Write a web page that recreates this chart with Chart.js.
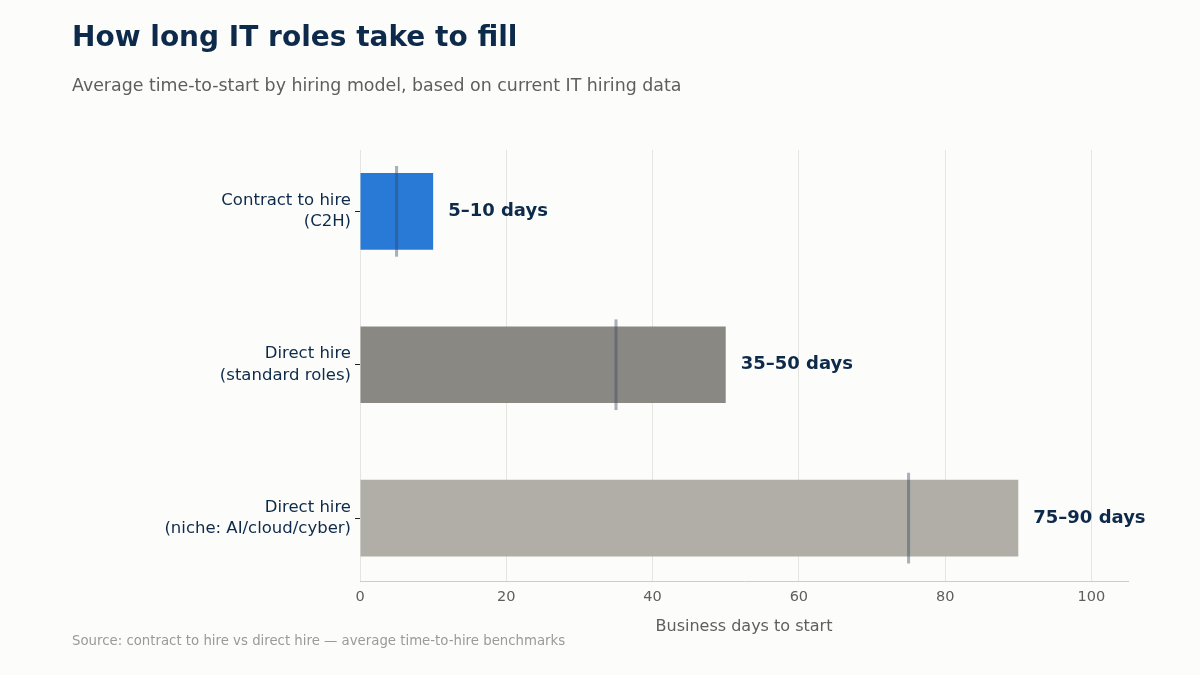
<!DOCTYPE html>
<html>
<head>
<meta charset="utf-8">
<script src="https://cdn.jsdelivr.net/npm/chart.js@4.4.1/dist/chart.umd.min.js"></script>
<style>
  html, body { margin: 0; padding: 0; background: #fcfcfa; }
  body { width: 1200px; height: 675px; position: relative; overflow: hidden; font-family: 'DejaVu Sans', sans-serif; }
  #wrap { position: absolute; left: 0; top: 0; width: 1200px; height: 675px; }
  .title { position: absolute; left: 72px; top: 20px; font-size: 28px; font-weight: bold; color: #0d2a4a; }
  .subtitle { position: absolute; left: 72px; top: 75px; font-size: 17.4px; color: #5e5e5e; }
  .source { position: absolute; left: 72px; top: 633px; font-size: 13.3px; color: #9a9a9a; }
</style>
</head>
<body>
<div id="wrap"><canvas id="chart" width="1200" height="675"></canvas></div>
<div class="title">How long IT roles take to fill</div>
<div class="subtitle">Average time-to-start by hiring model, based on current IT hiring data</div>
<div class="source">Source: contract to hire vs direct hire — average time-to-hire benchmarks</div>
<script>
// chart data
const categories = [
  ['Contract to hire', '(C2H)'],
  ['Direct hire', '(standard roles)'],
  ['Direct hire', '(niche: AI/cloud/cyber)']
];
const lowDays = [5, 35, 75];
const highDays = [10, 50, 90];
const barColors = ['#2979d7', '#8a8883', '#b0aea6'];
const xTicks = [0, 20, 40, 60, 80, 100];

Chart.defaults.font.family = "'DejaVu Sans', sans-serif";

// low-end marker line + range text next to each bar
const rangePlugin = {
  id: 'rangeMarks',
  afterDatasetsDraw(chart) {
    const ctx = chart.ctx;
    const xs = chart.scales.x, ys = chart.scales.y;
    const meta = chart.getDatasetMeta(0);
    ctx.save();
    meta.data.forEach((bar, i) => {
      const half = bar.height / 2;
      const lx = xs.getPixelForValue(lowDays[i]);
      ctx.strokeStyle = 'rgba(50,70,95,0.42)';
      ctx.lineWidth = 3;
      ctx.beginPath();
      ctx.moveTo(lx, bar.y - half - 7);
      ctx.lineTo(lx, bar.y + half + 7);
      ctx.stroke();

      ctx.fillStyle = '#0d2a4a';
      ctx.font = "bold 18px 'DejaVu Sans', sans-serif";
      ctx.textAlign = 'left';
      ctx.textBaseline = 'middle';
      ctx.fillText(lowDays[i] + '–' + highDays[i] + ' days', xs.getPixelForValue(highDays[i]) + 15, ys.getPixelForValue(i));
    });
    ctx.restore();
  }
};

new Chart(document.getElementById('chart'), {
  type: 'bar',
  data: {
    datasets: [{
      data: highDays.map((v, i) => ({ x: v, y: i })),
      backgroundColor: barColors,
      borderWidth: 0,
      barPercentage: 0.5,
      categoryPercentage: 1
    }]
  },
  options: {
    indexAxis: 'y',
    responsive: false,
    animation: false,
    layout: { padding: { top: 150, right: 72, left: 0, bottom: 0 } },
    plugins: { legend: { display: false }, tooltip: { enabled: false } },
    scales: {
      x: {
        type: 'linear',
        min: 0,
        max: 105,
        afterBuildTicks: s => { s.ticks = xTicks.map(v => ({ value: v })); },
        ticks: { color: '#5e5e5e', font: { size: 14.5 }, padding: 8 },
        grid: { color: '#e4e4e0', drawTicks: false },
        border: { color: '#cccccc', width: 1 },
        title: { display: true, text: 'Business days to start', color: '#5e5e5e', font: { size: 16 }, padding: { top: 9, bottom: 39 } },
        afterFit: s => { s.height = 94; }
      },
      y: {
        type: 'linear',
        reverse: true,
        offset: false,
        min: -0.4,
        max: 2.41,
        afterBuildTicks: s => { s.ticks = categories.map((c, i) => ({ value: i })); },
        ticks: {
          callback: v => categories[v],
          color: '#0d2a4a',
          font: { size: 16.5, lineHeight: 1.28 },
          padding: 4
        },
        grid: { offset: false, drawOnChartArea: false, drawTicks: true, tickLength: 5, color: '#222222' },
        border: { display: false },
        afterFit: s => { s.width = 360; }
      }
    }
  },
  plugins: [rangePlugin]
});
</script>
</body>
</html>
